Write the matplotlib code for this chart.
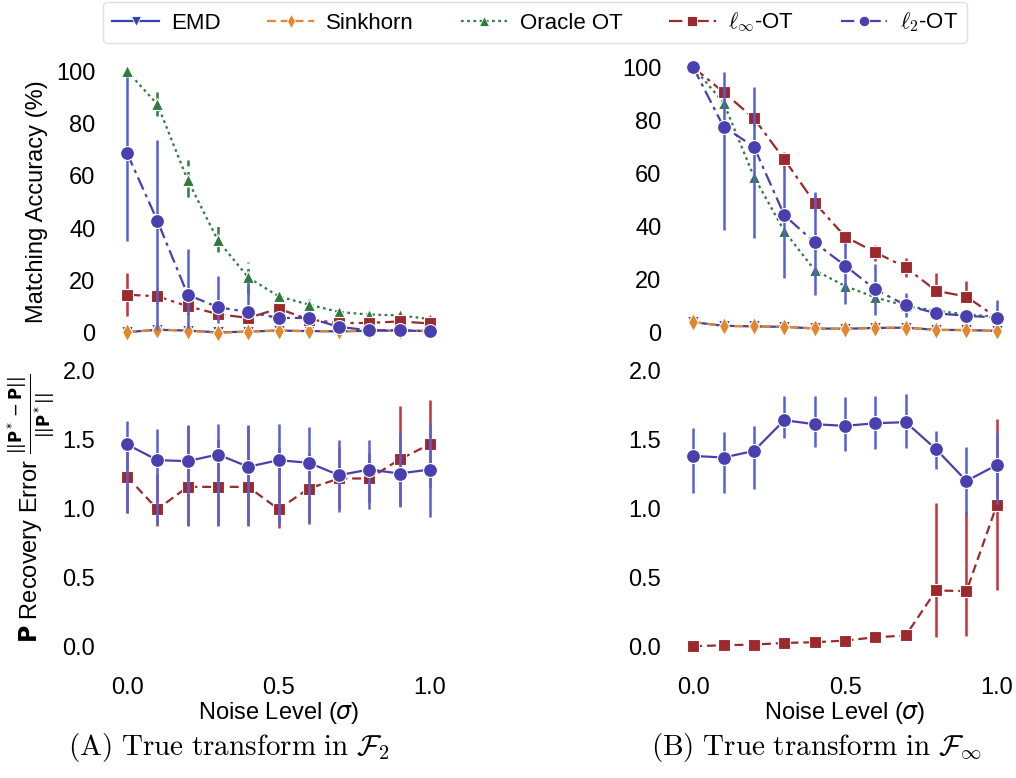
import numpy as np
import matplotlib
matplotlib.use("Agg")
import matplotlib.pyplot as plt
from matplotlib.font_manager import FontProperties
from matplotlib.lines import Line2D

plt.rcParams['font.family'] = ['Liberation Sans', 'DejaVu Sans']

noise = [0.0, 0.1, 0.2, 0.3, 0.4, 0.5, 0.6, 0.7, 0.8, 0.9, 1.0]

# ---- Matching accuracy, true transform in F_2 ----
f2_emd = [0.3, 1.2, 0.9, 0.2, 0.5, 0.9, 0.7, 0.6, 0.8, 0.9, 0.7]
f2_emd_lo = [0.0, 0.2, 0.0, 0.0, 0.0, 0.2, 0.0, 0.0, 0.2, 0.3, 0.2]
f2_emd_hi = [1.5, 2.4, 2.0, 1.3, 1.5, 1.8, 1.5, 1.2, 1.4, 1.5, 1.2]
f2_sink = [0.2, 1.3, 0.9, 0.0, 0.5, 0.9, 0.6, 0.6, 0.9, 0.9, 0.7]
f2_sink_lo = [0.0, 0.3, 0.0, 0.0, 0.0, 0.2, 0.0, 0.0, 0.3, 0.3, 0.2]
f2_sink_hi = [1.5, 2.5, 2.0, 1.2, 1.5, 1.8, 1.4, 1.2, 1.5, 1.5, 1.2]
f2_oracle = [100, 87.3, 58.4, 35.3, 21.2, 14.0, 10.8, 8.0, 7.0, 6.7, 5.3]
f2_oracle_lo = [100, 83, 52, 31, 15, 11.5, 9, 6.5, 6, 5.8, 4.8]
f2_oracle_hi = [100, 92, 66, 42.6, 27, 17, 14, 9.5, 8, 7.6, 6]
f2_linf = [14.6, 14.0, 10.2, 7.2, 5.7, 9.3, 5.1, 3.8, 3.8, 4.4, 3.6]
f2_linf_lo = [6.4, 11, 7, 5, 4, 7, 3.5, 2.5, 2.5, 3, 2.5]
f2_linf_hi = [22.9, 17, 13.5, 9.5, 7.5, 11.5, 6.8, 5, 5, 5.8, 4.8]
f2_l2 = [68.6, 42.8, 14.6, 9.8, 8.0, 5.7, 5.7, 2.3, 1.0, 1.0, 0.6]
f2_l2_lo = [35, 1, 2, 3.8, 6, 4, 4, 1, 0.5, 0.5, 0.2]
f2_l2_hi = [97.8, 73.7, 32, 21.6, 19.7, 8, 7.5, 3.5, 1.5, 1.5, 1.0]

# ---- Matching accuracy, true transform in F_inf ----
fi_emd = [4.0, 2.6, 2.4, 2.2, 1.6, 1.5, 1.8, 1.9, 1.1, 1.0, 0.7]
fi_emd_lo = [3.0, 1.6, 1.4, 1.2, 0.6, 0.5, 0.8, 0.9, 0.1, 0.0, 0.0]
fi_emd_hi = [5.0, 3.6, 3.4, 3.2, 2.6, 2.5, 2.8, 2.9, 2.1, 2.0, 1.7]
fi_sink = [4.1, 2.5, 2.5, 2.3, 1.6, 1.4, 1.9, 1.9, 1.0, 1.0, 0.6]
fi_sink_lo = [3.0, 1.4, 1.4, 1.2, 0.5, 0.3, 0.8, 0.8, 0.0, 0.0, 0.0]
fi_sink_hi = [5.2, 3.6, 3.6, 3.4, 2.7, 2.5, 3.0, 3.0, 2.1, 2.1, 1.7]
fi_oracle = [100, 86.7, 58.8, 38.3, 23.6, 17.6, 13.3, 10.1, 8.3, 6.9, 6.0]
fi_oracle_lo = [100, 85, 57, 36.5, 22, 16, 12, 9, 7.3, 6, 5.2]
fi_oracle_hi = [100, 88.5, 60.5, 40, 25, 19, 14.5, 11.2, 9.3, 7.8, 6.8]
fi_linf = [100, 90.6, 80.8, 65.3, 49.0, 36.2, 30.3, 24.6, 15.8, 13.6, 5.7]
fi_linf_lo = [100, 88, 78, 62, 46, 33, 27, 21, 13.6, 11.5, 4.5]
fi_linf_hi = [100, 93, 83.5, 68, 52, 38.5, 33, 28, 22.4, 19.5, 7]
fi_l2 = [100, 77.6, 70.1, 44.3, 34.0, 25.3, 16.3, 10.4, 7.3, 6.4, 5.7]
fi_l2_lo = [100, 38.7, 35.6, 20.5, 14.2, 11, 6.7, 6, 6.5, 5.5, 4.8]
fi_l2_hi = [100, 98.4, 92.5, 62.6, 53, 33.7, 26, 14.8, 8.5, 7.5, 12.3]

# ---- P recovery error, true transform in F_2 ----
e2_linf = [1.230, 0.995, 1.157, 1.157, 1.157, 0.995, 1.145, 1.218, 1.218, 1.356, 1.467]
e2_linf_lo = [0.964, 0.874, 0.874, 0.874, 0.874, 0.86, 0.89, 1.0, 1.05, 1.02, 1.15]
e2_linf_hi = [1.42, 1.25, 1.605, 1.5, 1.605, 1.45, 1.4, 1.45, 1.4, 1.746, 1.79]
e2_l2 = [1.465, 1.351, 1.344, 1.392, 1.303, 1.351, 1.332, 1.242, 1.283, 1.254, 1.283]
e2_l2_lo = [0.964, 0.89, 0.88, 0.88, 0.88, 0.88, 0.9, 0.976, 1.0, 1.01, 0.94]
e2_l2_hi = [1.634, 1.58, 1.6, 1.61, 1.6, 1.61, 1.59, 1.50, 1.496, 1.55, 1.62]

# ---- P recovery error, true transform in F_inf ----
ei_linf = [0.0, 0.007, 0.012, 0.024, 0.029, 0.041, 0.065, 0.078, 0.405, 0.40, 1.025]
ei_linf_lo = [0.0, 0.0, 0.0, 0.01, 0.015, 0.025, 0.05, 0.06, 0.065, 0.073, 0.405]
ei_linf_hi = [0.01, 0.015, 0.025, 0.035, 0.045, 0.06, 0.08, 0.09, 1.042, 0.98, 1.648]
ei_l2 = [1.382, 1.370, 1.418, 1.641, 1.612, 1.6, 1.619, 1.627, 1.430, 1.2, 1.316]
ei_l2_lo = [1.115, 1.115, 1.144, 1.515, 1.45, 1.42, 1.43, 1.44, 1.285, 0.95, 1.03]
ei_l2_hi = [1.583, 1.555, 1.6, 1.818, 1.818, 1.81, 1.82, 1.83, 1.56, 1.447, 1.55]

C_EMD = '#3344a8'
C_SINK = '#e3862e'
C_ORACLE = '#2f7a3c'
C_LINF = '#9c2a2c'
C_L2 = '#4a3fae'
EB_L2 = '#5560d4'
EB_LINF = '#c4323c'

W, H, DPI = 1016, 778, 100
fig = plt.figure(figsize=(W / DPI, H / DPI), dpi=DPI)


def px_axes(left, top, right, bottom):
    return fig.add_axes([left / W, 1 - bottom / H, (right - left) / W, (bottom - top) / H])


def series(ax, y, lo, hi, color, ls, marker, ms, ecolor=None, els='-', lw=1.6, z=2):
    y = np.asarray(y, float)
    lo = np.asarray(lo, float)
    hi = np.asarray(hi, float)
    ax.vlines(noise, lo, hi, colors=ecolor or color, linestyles=els, lw=1.8, zorder=z)
    ax.plot(noise, y, color=color, ls=ls, lw=lw, marker=marker, ms=ms,
            mec='white', mew=0.8, zorder=z + 0.5)


ax_tl = px_axes(112, 58, 445, 346)
ax_tr = px_axes(678, 58, 1012, 346)
ax_bl = px_axes(112, 357, 445, 660)
ax_br = px_axes(678, 357, 1012, 660)

ls_dashdot = (0, (6, 2.2, 1.5, 2.2))
ls_dash = (0, (4, 2.2))
ls_dot = (0, (1.2, 1.6))

for ax, d in [(ax_tl, (f2_emd, f2_emd_lo, f2_emd_hi, f2_sink, f2_sink_lo, f2_sink_hi,
                       f2_oracle, f2_oracle_lo, f2_oracle_hi, f2_linf, f2_linf_lo, f2_linf_hi,
                       f2_l2, f2_l2_lo, f2_l2_hi)),
              (ax_tr, (fi_emd, fi_emd_lo, fi_emd_hi, fi_sink, fi_sink_lo, fi_sink_hi,
                       fi_oracle, fi_oracle_lo, fi_oracle_hi, fi_linf, fi_linf_lo, fi_linf_hi,
                       fi_l2, fi_l2_lo, fi_l2_hi))]:
    series(ax, d[0], d[1], d[2], C_EMD, '-', 'v', 8, z=2)
    series(ax, d[3], d[4], d[5], C_SINK, ls_dash, 'd', 9, els=ls_dot, z=3)
    series(ax, d[6], d[7], d[8], C_ORACLE, ls_dot, '^', 9, els=ls_dash, z=4)
    series(ax, d[9], d[10], d[11], C_LINF, ls_dashdot, 's', 9, ecolor=EB_LINF, z=5)
    series(ax, d[12], d[13], d[14], C_L2, ls_dashdot, 'o', 10, ecolor=EB_L2, z=6)

series(ax_bl, e2_linf, e2_linf_lo, e2_linf_hi, C_LINF, ls_dash, 's', 9, ecolor=EB_LINF, z=3)
series(ax_bl, e2_l2, e2_l2_lo, e2_l2_hi, C_L2, '-', 'o', 10, ecolor=EB_L2, z=4)
series(ax_br, ei_linf, ei_linf_lo, ei_linf_hi, C_LINF, ls_dash, 's', 9, ecolor=EB_LINF, z=3)
series(ax_br, ei_l2, ei_l2_lo, ei_l2_hi, C_L2, '-', 'o', 10, ecolor=EB_L2, z=4)

ax_tl.set_ylim(-5, 105)
ax_tr.set_ylim(-5, 103.5)
ax_bl.set_ylim(-0.1, 2.1)
ax_br.set_ylim(-0.1, 2.1)

for ax in (ax_tl, ax_tr, ax_bl, ax_br):
    ax.set_xlim(-0.05, 1.05)
    for s in ax.spines.values():
        s.set_visible(False)
    ax.tick_params(length=0, labelsize=17, pad=12)
    ax.set_xticks([0.0, 0.5, 1.0])
    ax.set_facecolor('white')

for ax in (ax_tl, ax_tr):
    ax.set_yticks([0, 20, 40, 60, 80, 100])
    ax.tick_params(labelbottom=False)
for ax in (ax_bl, ax_br):
    ax.set_yticks([0.0, 0.5, 1.0, 1.5, 2.0])
    ax.set_yticklabels(['0.0', '0.5', '1.0', '1.5', '2.0'])
    ax.set_xticklabels(['0.0', '0.5', '1.0'])
    ax.set_xlabel(r'Noise Level ($\sigma$)', fontsize=17, labelpad=1)

ax_tl.set_ylabel('Matching Accuracy (%)', fontsize=17, labelpad=6)
ax_bl.set_ylabel(r'$\mathbf{P}$ Recovery Error $\frac{||\mathbf{P}^* - \mathbf{P}||}{||\mathbf{P}^*||}$',
                 fontsize=17, labelpad=4)

# sub-figure captions
fig.text(229 / W, 1 - 747 / H, r'$\mathrm{(A)\ True\ transform\ in}\ \mathcal{F}_2$',
         math_fontfamily='cm', fontsize=21, ha='center', va='center')
fig.text(816 / W, 1 - 747 / H, r'$\mathrm{(B)\ True\ transform\ in}\ \mathcal{F}_\infty$',
         math_fontfamily='cm', fontsize=21, ha='center', va='center')

# shared legend
handles = [
    Line2D([], [], color=C_EMD, ls='-', lw=1.6, marker='v', ms=7, mec='white', mew=0.6),
    Line2D([], [], color=C_SINK, ls=ls_dash, lw=1.6, marker='d', ms=7.5, mec='white', mew=0.6),
    Line2D([], [], color=C_ORACLE, ls=ls_dot, lw=1.6, marker='^', ms=7.5, mec='white', mew=0.6),
    Line2D([], [], color=C_LINF, ls=ls_dashdot, lw=1.6, marker='s', ms=7.5, mec='white', mew=0.6),
    Line2D([], [], color=C_L2, ls=ls_dashdot, lw=1.6, marker='o', ms=7.5, mec='white', mew=0.6),
]
labels = ['EMD', 'Sinkhorn', 'Oracle OT', r'$\ell_\infty$-OT', r'$\ell_2$-OT']
leg_font = FontProperties(family='Liberation Sans', size=16, math_fontfamily='cm')
fig.legend(handles, labels, loc='upper center', bbox_to_anchor=(535 / W, 1.012), ncol=5,
           prop=leg_font, frameon=True, fancybox=True, edgecolor='#d8d8d8',
           handlelength=2.1, columnspacing=2.1, handletextpad=0.55, borderpad=0.4)

fig.savefig('out.png', dpi=DPI, facecolor='white')
